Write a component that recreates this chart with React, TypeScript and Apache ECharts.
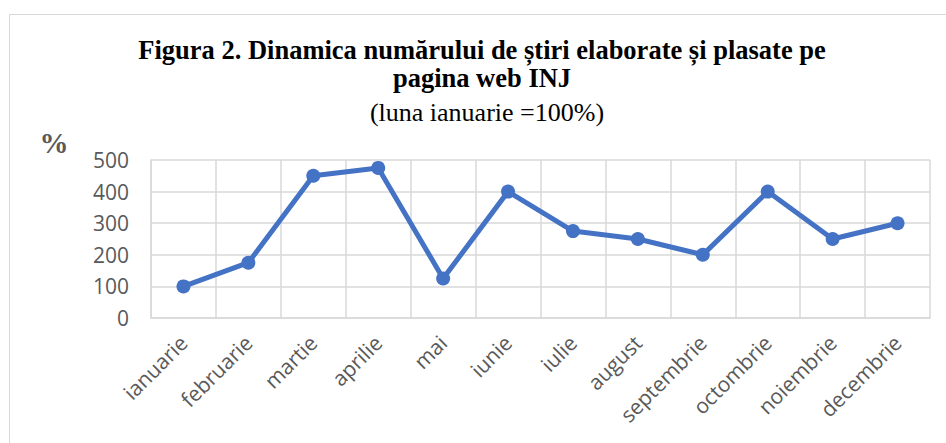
import React, { useEffect, useRef } from "react";
import * as echarts from "echarts";

const categories = [
  "ianuarie", "februarie", "martie", "aprilie", "mai", "iunie",
  "iulie", "august", "septembrie", "octombrie", "noiembrie", "decembrie",
];
const values = [100, 175, 450, 475, 125, 400, 275, 250, 200, 400, 250, 300];
const titleLine1 = "Figura 2. Dinamica numărului de știri elaborate și plasate pe";
const titleLine2 = "pagina web INJ";
const subtitle = "(luna ianuarie =100%)";
const unitLabel = "%";

export default function App() {
  const ref = useRef<HTMLDivElement>(null);
  useEffect(() => {
    if (!ref.current) return;
    const chart = echarts.init(ref.current, undefined, { renderer: "svg" });
    const serif = "'Liberation Serif', 'Times New Roman', serif";
    const sans = "'Open Sans', 'Noto Sans', sans-serif";
    chart.setOption({
      animation: false,
      backgroundColor: "#ffffff",
      graphic: [
        {
          type: "rect",
          shape: { x: 9.5, y: 14.5, width: 950, height: 440 },
          style: { fill: "none", stroke: "#d9d9d9", lineWidth: 1 },
          silent: true,
        },
        {
          type: "text", x: 482, y: 50,
          style: { text: titleLine1, font: `bold 26.5px ${serif}`, fill: "#000", align: "center", verticalAlign: "middle" },
        },
        {
          type: "text", x: 482, y: 78,
          style: { text: titleLine2, font: `bold 26.5px ${serif}`, fill: "#000", align: "center", verticalAlign: "middle" },
        },
        {
          type: "text", x: 487, y: 112,
          style: { text: subtitle, font: `26px ${serif}`, fill: "#000", align: "center", verticalAlign: "middle" },
        },
        {
          type: "text", x: 54, y: 143,
          style: { text: unitLabel, font: `bold 29px ${serif}`, fill: "#595959", align: "center", verticalAlign: "middle" },
        },
      ],
      grid: { left: 151, right: 16, top: 160, bottom: 125, containLabel: false },
      xAxis: {
        type: "category",
        data: categories,
        boundaryGap: true,
        axisLine: { show: true, lineStyle: { color: "#d9d9d9", width: 1.5 } },
        axisTick: { show: false },
        splitLine: { show: true, lineStyle: { color: "#d9d9d9", width: 1.5 } },
        axisLabel: { rotate: 45, interval: 0, color: "#595959", fontFamily: sans, fontSize: 21, margin: 21 },
      },
      yAxis: {
        type: "value",
        min: 0, max: 500, interval: 100,
        axisLine: { show: true, lineStyle: { color: "#d9d9d9", width: 1.5 } },
        axisTick: { show: false },
        splitLine: { show: true, lineStyle: { color: "#d9d9d9", width: 1.5 } },
        axisLabel: { color: "#595959", fontFamily: sans, fontSize: 21, margin: 22 },
      },
      series: [
        {
          type: "line",
          data: values,
          symbol: "circle",
          symbolSize: 14,
          itemStyle: { color: "#4472C4" },
          lineStyle: { color: "#4472C4", width: 5 },
        },
      ],
    });
    return () => chart.dispose();
  }, []);
  return <div ref={ref} style={{ position: "absolute", left: 0, top: 0, width: 946, height: 443 }} />;
}
